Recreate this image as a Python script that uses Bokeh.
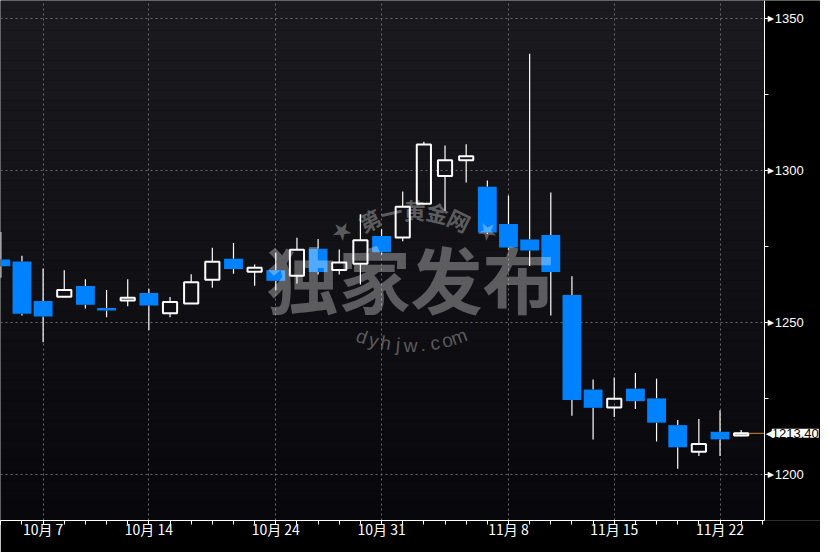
import math
from bokeh.plotting import figure
from bokeh.models import FixedTicker, Label, Range1d, BoxAnnotation
from bokeh.embed import file_html
from bokeh.resources import INLINE

# ---------------- data ----------------
dates = ["10月 5", "10月 6", "10月 7", "10月 10", "10月 11", "10月 12", "10月 13", "10月 14",
         "10月 17", "10月 18", "10月 19", "10月 20", "10月 21", "10月 24", "10月 25", "10月 26",
         "10月 27", "10月 28", "10月 31", "11月 1", "11月 2", "11月 3", "11月 4", "11月 7",
         "11月 8", "11月 9", "11月 10", "11月 11", "11月 14", "11月 15", "11月 16", "11月 17",
         "11月 18", "11月 21", "11月 22", "11月 23"]
opens = [1270.6, 1270.0, 1257.0, 1258.4, 1261.9, 1254.7, 1257.1, 1259.6, 1252.9, 1256.1,
         1264.0, 1270.9, 1266.6, 1267.1, 1265.3, 1274.2, 1267.2, 1269.2, 1278.4, 1277.9,
         1289.0, 1298.1, 1303.3, 1294.6, 1282.3, 1277.2, 1278.7, 1258.9, 1227.8, 1221.9,
         1228.1, 1224.9, 1216.1, 1207.3, 1213.9, 1212.7]
highs = [1279.7, 1271.9, 1267.7, 1267.1, 1264.1, 1260.6, 1264.1, 1261.0, 1258.3, 1265.8,
         1274.5, 1276.1, 1269.0, 1272.9, 1277.8, 1277.4, 1273.9, 1285.5, 1280.6, 1293.0,
         1309.4, 1308.2, 1308.6, 1296.6, 1291.7, 1338.4, 1292.7, 1265.1, 1231.1, 1231.8,
         1233.3, 1231.4, 1217.8, 1218.1, 1221.0, 1214.5]
lows = [1264.6, 1252.2, 1243.4, 1258.2, 1254.5, 1251.6, 1255.2, 1247.3, 1251.6, 1256.0,
        1261.3, 1265.9, 1262.0, 1260.5, 1262.7, 1265.7, 1265.7, 1262.4, 1272.3, 1276.6,
        1288.8, 1286.7, 1296.0, 1279.0, 1273.8, 1268.5, 1252.2, 1219.2, 1211.4, 1218.8,
        1221.4, 1210.7, 1201.7, 1205.9, 1205.9, 1212.4]
closes = [1268.4, 1252.8, 1251.9, 1260.6, 1255.7, 1253.8, 1258.0, 1255.5, 1256.6, 1263.1,
          1269.9, 1267.5, 1267.9, 1263.6, 1273.8, 1266.5, 1269.6, 1277.0, 1273.0, 1288.0,
          1308.5, 1303.3, 1304.6, 1279.5, 1274.6, 1273.6, 1266.5, 1224.4, 1221.8, 1224.8,
          1224.0, 1216.9, 1208.8, 1209.9, 1211.4, 1213.4]
labeled_dates = ["10月 7", "10月 14", "10月 24", "10月 31", "11月 8", "11月 15", "11月 22"]
y_ticks = [1200, 1250, 1300, 1350]
y_minor_ticks = [1225, 1275, 1325]
last_price_text = "1213.40"

# ---------------- geometry (reference pixel -> data helpers) ----------------
PX_PER_DAY = 21.36
X0_PX = 0.3
PX_PER_USD = 3.084
Y1200_PX = 480.8


def dx(ref_x):
    return (ref_x - X0_PX) / PX_PER_DAY


def dy(ref_y):
    return 1200 + (Y1200_PX - ref_y) / PX_PER_USD


X_START, X_END = dx(0), dx(828)
Y_START, Y_END = dy(528), dy(0)
X_AX = dx(771.7)          # location of the price axis

p = figure(width=820, height=552, output_backend="svg", toolbar_location=None,
           x_range=Range1d(X_START, X_END), y_range=Range1d(Y_START, Y_END),
           y_axis_location="right", min_border_left=0, min_border_top=0,
           min_border_right=0, min_border_bottom=32)
p.border_fill_color = "#000000"
p.background_fill_color = "#000000"
p.outline_line_color = None

# vertical gradient background of the chart area (left of the price axis)
NB = 52
top_rgb = (27, 27, 31)
bot_rgb = (8, 8, 12)
h = (Y_END - Y_START) / NB
for k in range(NB):
    t = k / (NB - 1)
    col = tuple(int(round(a + (b - a) * t)) for a, b in zip(top_rgb, bot_rgb))
    p.add_layout(BoxAnnotation(top=Y_END - k * h, bottom=Y_END - (k + 1) * h - 0.05,
                               right=X_AX, fill_color="#%02x%02x%02x" % col, fill_alpha=1.0,
                               line_color=None, level="image"))

idx = list(range(len(dates)))
tick_idx = [dates.index(d) for d in labeled_dates]

# grid
p.xgrid.ticker = FixedTicker(ticks=tick_idx)
p.ygrid.ticker = FixedTicker(ticks=y_ticks)
for g in (p.xgrid, p.ygrid):
    g.grid_line_color = "#6a6a6a"
    g.grid_line_dash = "2 3"
    g.grid_line_width = 1
# black area to the right of the price axis (hides grid there)
p.add_layout(BoxAnnotation(left=X_AX, fill_color="#000000", fill_alpha=1.0,
                           line_color=None, level="underlay"))

# axes
xa = p.xaxis[0]
xa.ticker = FixedTicker(ticks=tick_idx, minor_ticks=list(range(len(dates) + 1)))
xa.major_label_overrides = {i: dates[i] for i in tick_idx}
xa.bounds = (X_START, X_AX)
xa.axis_line_color = "white"
xa.major_tick_line_color = "white"
xa.minor_tick_line_color = "white"
xa.major_tick_in = 0
xa.major_tick_out = 4
xa.minor_tick_in = 0
xa.minor_tick_out = 4
xa.major_label_standoff = -6
xa.major_label_text_color = "white"
xa.major_label_text_font = "Liberation Sans Narrow, Noto Sans CJK SC"
xa.major_label_text_font_size = "14px"

ya = p.yaxis[0]
ya.fixed_location = X_AX
ya.ticker = FixedTicker(ticks=y_ticks, minor_ticks=y_minor_ticks)
ya.axis_line_color = "white"
ya.major_tick_line_color = "white"
ya.minor_tick_line_color = "white"
ya.major_tick_in = 0
ya.major_tick_out = 4
ya.major_tick_line_width = 1
ya.minor_tick_in = 0
ya.minor_tick_out = 4
ya.major_label_standoff = 6
ya.major_label_text_color = "white"
ya.major_label_text_font = "Liberation Sans"
ya.major_label_text_font_size = "13px"
for t in y_ticks:
    p.add_layout(Label(x=X_AX, y=t, x_offset=3, text="▶", text_color="white",
                       text_font="DejaVu Sans", text_font_size="8px",
                       text_baseline="middle", text_align="left"))

# ---------------- candles ----------------
up = [c > o for o, c in zip(opens, closes)]
body_top = [max(o, c) for o, c in zip(opens, closes)]
body_bot = [min(o, c) for o, c in zip(opens, closes)]

p.segment(x0=idx, y0=highs, x1=idx, y1=body_top, line_color="white", line_width=1.2)
p.segment(x0=idx, y0=body_bot, x1=idx, y1=lows, line_color="white", line_width=1.2)

dn_i = [i for i in idx if not up[i]]
up_i = [i for i in idx if up[i]]
p.vbar(x=dn_i, top=[body_top[i] for i in dn_i], bottom=[body_bot[i] for i in dn_i],
       width=0.89, fill_color="#0082ff", line_color=None)
p.vbar(x=up_i, top=[body_top[i] for i in up_i], bottom=[body_bot[i] for i in up_i],
       width=0.67, fill_color=None, line_color="white", line_width=2)

# last price line and label
p.segment(x0=[idx[-1] + 0.36], y0=[closes[-1]], x1=[X_AX], y1=[closes[-1]],
          line_color="#d08a3a", line_width=1)
p.add_layout(Label(x=X_AX, y=closes[-1], x_offset=7, text=last_price_text,
                   text_color="black", text_font="Liberation Sans", text_font_size="13px",
                   text_baseline="middle", text_align="left",
                   background_fill_color="white", background_fill_alpha=1.0))
p.add_layout(Label(x=X_AX, y=closes[-1], x_offset=1, text="◀", text_color="white",
                   text_font="DejaVu Sans", text_font_size="11px",
                   text_baseline="middle", text_align="left"))

# ---------------- watermark ----------------
WM_COLOR = "white"
WM_ALPHA = 0.32


def wm(ref_x, ref_y, text, size, angle=0.0, style="bold", font="Noto Sans CJK SC"):
    p.add_layout(Label(x=dx(ref_x), y=dy(ref_y), text=text, text_color=WM_COLOR,
                       text_alpha=WM_ALPHA, text_font=font, text_font_size=size,
                       text_font_style=style, text_align="center",
                       text_baseline="middle", angle=angle))


wm(414, 280, "独家发布", "72px")
cx, cy = 418, 316
for ch, deg in zip("第一黄金网", [26, 13, 0, -13, -26]):
    th = math.radians(deg)
    wm(cx - 104 * math.sin(th), cy - 104 * math.cos(th), ch, "22px", angle=th)
for deg in (42, -42):
    th = math.radians(deg)
    wm(cx - 110 * math.sin(th), cy - 110 * math.cos(th), "★", "24px", angle=th,
       style="normal", font="DejaVu Sans")
bx, by, br = 414, 205, 145
for k, ch in enumerate("dyhjw.com"):
    ph = (k - 4) * 12.5 / br
    wm(bx + br * math.sin(ph), by + br * math.cos(ph), ch, "19px", angle=ph,
       style="normal", font="Liberation Sans")

open("out.html", "w").write(file_html(p, INLINE))
